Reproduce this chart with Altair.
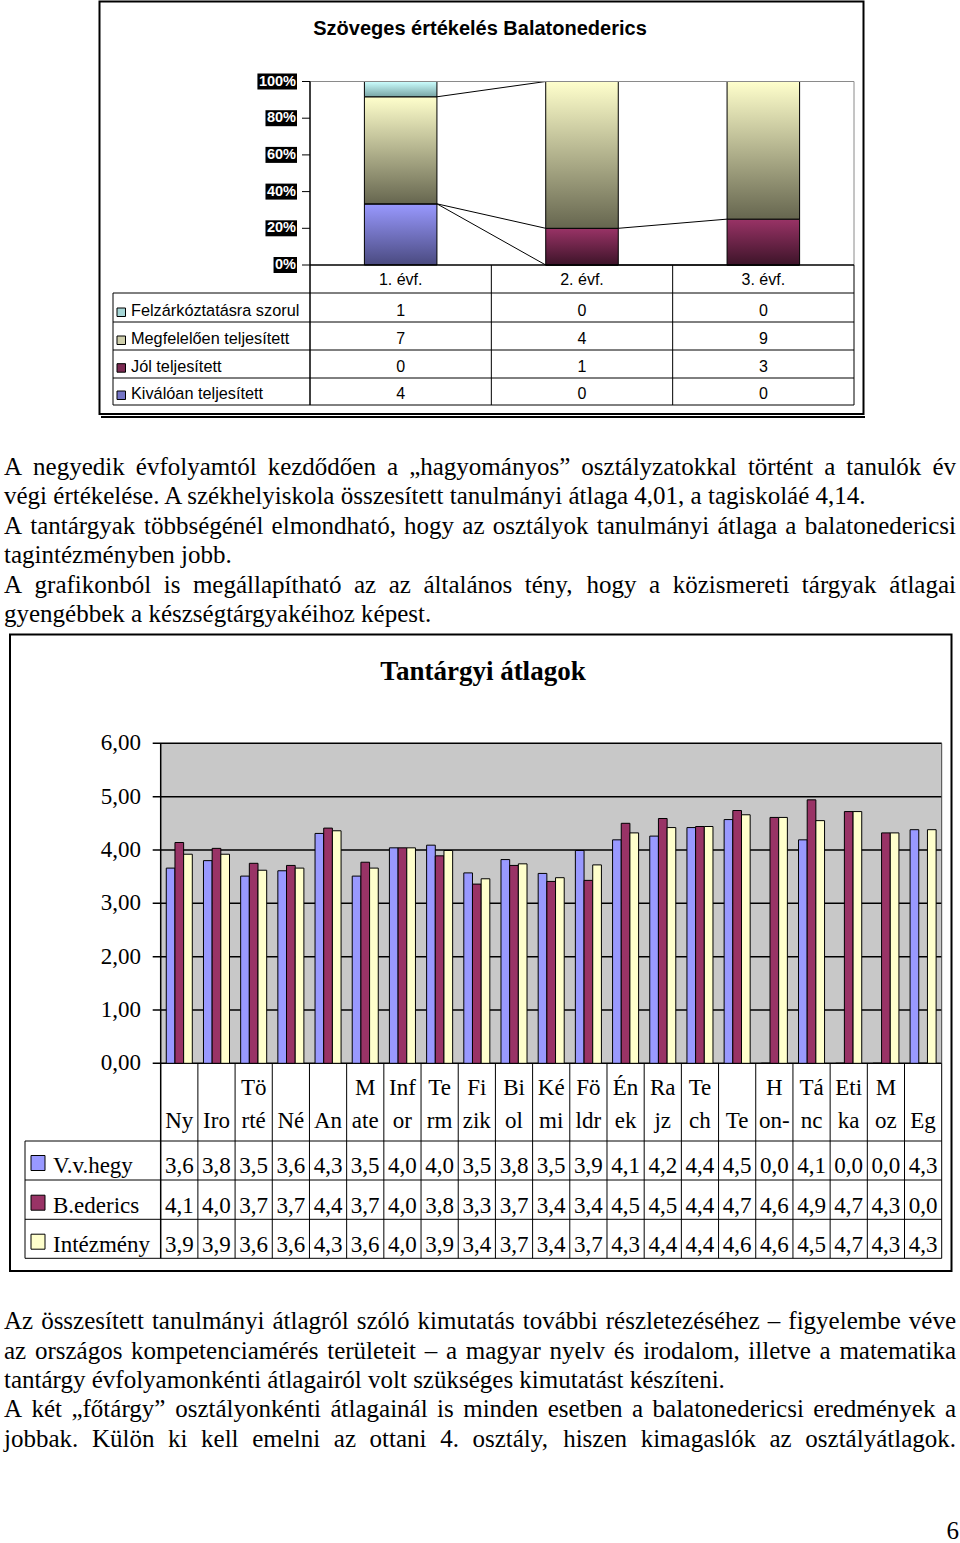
import altair as alt
import pandas as pd

# ---------------- data: chart 1 ----------------
title1 = "Szöveges értékelés Balatonederics"
grades = ["1. évf.", "2. évf.", "3. évf."]
series1 = ["Felzárkóztatásra szorul", "Megfelelően teljesített", "Jól teljesített", "Kiválóan teljesített"]
felzarkoztatasra = [1, 0, 0]
megfeleloen = [7, 4, 9]
jol_teljesitett = [0, 1, 3]
kivaloan = [4, 0, 0]
pct_ticks = [0, 0.2, 0.4, 0.6, 0.8, 1.0]

# ---------------- data: chart 2 ----------------
title2 = "Tantárgyi átlagok"
subj_line1 = ["", "", "Tö", "", "", "M", "Inf", "Te", "Fi", "Bi", "Ké", "Fö", "Én", "Ra", "Te", "", "H", "Tá", "Eti", "M", ""]
subj_line2 = ["Ny", "Iro", "rté", "Né", "An", "ate", "or", "rm", "zik", "ol", "mi", "ldr", "ek", "jz", "ch", "Te", "on-", "nc", "ka", "oz", "Eg"]
series2 = ["V.v.hegy", "B.ederics", "Intézmény"]
vvhegy = [3.66, 3.80, 3.51, 3.61, 4.31, 3.51, 4.04, 4.09, 3.57, 3.82, 3.56, 3.99, 4.19, 4.26, 4.42, 4.57, 0.0, 4.19, 0.0, 0.0, 4.38]
bederics = [4.14, 4.03, 3.75, 3.71, 4.41, 3.77, 4.04, 3.89, 3.36, 3.71, 3.41, 3.43, 4.50, 4.59, 4.44, 4.74, 4.61, 4.94, 4.72, 4.32, 0.0]
intezmeny = [3.92, 3.92, 3.62, 3.66, 4.36, 3.66, 4.04, 3.99, 3.46, 3.74, 3.48, 3.72, 4.32, 4.42, 4.44, 4.66, 4.61, 4.55, 4.72, 4.32, 4.38]
avg_ticks = [0, 1, 2, 3, 4, 5, 6]

# ---------------- page text ----------------
para1 = [
    ("A negyedik évfolyamtól kezdődően a „hagyományos” osztályzatokkal történt a tanulók év", True),
    ("végi értékelése. A székhelyiskola összesített tanulmányi átlaga 4,01, a tagiskoláé 4,14.", False),
    ("A tantárgyak többségénél elmondható, hogy az osztályok tanulmányi átlaga a balatonedericsi", True),
    ("tagintézményben jobb.", False),
    ("A grafikonból is megállapítható az az általános tény, hogy a közismereti tárgyak átlagai", True),
    ("gyengébbek a készségtárgyakéihoz képest.", False),
]
para2 = [
    ("Az összesített tanulmányi átlagról szóló kimutatás további részletezéséhez – figyelembe véve", True),
    ("az országos kompetenciamérés területeit – a magyar nyelv és irodalom, illetve a matematika", True),
    ("tantárgy évfolyamonkénti átlagairól volt szükséges kimutatást készíteni.", False),
    ("A két „főtárgy” osztályonkénti átlagainál is minden esetben a balatonedericsi eredmények a", True),
    ("jobbak. Külön ki kell emelni az ottani 4. osztály, hiszen kimagaslók az osztályátlagok.", True),
]
page_no = "6"

# ---------------- styles ----------------
SANS = "Liberation Sans, Arial, sans-serif"
SERIF = "Liberation Serif, Times New Roman, serif"
BODY = 25
T2 = 23

# Times New Roman advance widths (per 1000 em) for justified lines
TNR = {" ": 250, ",": 250, ".": 250, "-": 333, "–": 500, "„": 444, "”": 444, "(": 333, ")": 333, ":": 278, ";": 278, "%": 833}
for ch in "0123456789":
    TNR[ch] = 500
TNR.update(dict(a=444, b=500, c=444, d=500, e=444, f=333, g=500, h=500, i=278, j=278, k=500, l=278, m=778,
                n=500, o=500, p=500, q=500, r=333, s=389, t=278, u=500, v=500, w=722, x=500, y=500, z=444))
TNR.update(dict(A=722, B=667, C=667, D=722, E=611, F=556, G=722, H=722, I=333, J=389, K=722, L=611, M=889,
                N=722, O=722, P=556, Q=722, R=667, S=556, T=611, U=722, V=722, W=944, X=722, Y=722, Z=611))
ACC = str.maketrans("áéíóöőúüűÁÉÍÓÖŐÚÜŰ", "aeiooouuuAEIOOOUUU")


def tw(s, size):
    return sum(TNR.get(c, 500) for c in s.translate(ACC)) * size / 1000


XL, XR = 4, 956


def lay(lines, base, step):
    out = []
    for k, (txt, just) in enumerate(lines):
        y = base + k * step
        if not just:
            out.append(dict(px=XL, py=y, t=txt, a="l"))
            continue
        words = txt.split(" ")
        ws = [tw(w, BODY) for w in words]
        gap = (XR - XL - sum(ws)) / (len(words) - 1)
        x = XL
        for i, w in enumerate(words):
            if i == len(words) - 1:
                out.append(dict(px=XR, py=y, t=w, a="r"))
            else:
                out.append(dict(px=x, py=y, t=w, a="l"))
            x += ws[i] + gap
    return out


body = pd.DataFrame(lay(para1, 475, 29.4) + lay(para2, 1329.3, 29.35) +
                    [dict(px=959, py=1539, t=page_no, a="r")])
body_l = alt.Chart(body).transform_filter("datum.a == 'l'").mark_text(
    align="left", baseline="alphabetic", font=SERIF, fontSize=BODY, color="black"
).encode(x=alt.X("px:Q", scale=None), y=alt.Y("py:Q", scale=None), text="t:N")
body_r = alt.Chart(body).transform_filter("datum.a == 'r'").mark_text(
    align="right", baseline="alphabetic", font=SERIF, fontSize=BODY, color="black"
).encode(x=alt.X("px:Q", scale=None), y=alt.Y("py:Q", scale=None), text="t:N")

# ---------------- layout constants ----------------
C1X0, C1X1, C1Y0, C1Y1 = 310, 854, 265, 81.5
C2X0, C2X1, C2Y0, C2Y1 = 160.7, 941.7, 1063.3, 743.3
row_lines1 = [293, 322, 350, 378, 405]
row_base1 = [316, 344, 371.7, 399]
row_lines2 = [1141, 1180, 1219.3, 1258.3]
row_base2 = [1173, 1212.7, 1251.7]

# ---------------- chart 1 ----------------
sx1 = alt.Scale(domain=grades, range=[C1X0, C1X1], paddingInner=0.6, paddingOuter=0.3)
sy1 = alt.Scale(domain=[0, 1], range=[C1Y0, C1Y1], nice=False, zero=False)
counts1 = dict(zip(series1, [felzarkoztatasra, megfeleloen, jol_teljesitett, kivaloan]))
stack_order = ["Kiválóan teljesített", "Jól teljesített", "Megfelelően teljesített", "Felzárkóztatásra szorul"]
df1 = pd.DataFrame([dict(grade=g, series=s, n=counts1[s][i], order=stack_order.index(s))
                    for i, g in enumerate(grades) for s in series1])


def grad(top, bottom):
    return alt.LinearGradient(gradient="linear", x1=0, x2=0, y1=0, y2=1,
                              stops=[alt.GradientStop(offset=0, color=top),
                                     alt.GradientStop(offset=1, color=bottom)])


grads1 = {
    "Felzárkóztatásra szorul": grad("#ccffff", "#78a4a4"),
    "Megfelelően teljesített": grad("#ffffcc", "#66664f"),
    "Jól teljesített": grad("#993366", "#3d1429"),
    "Kiválóan teljesített": grad("#9999ff", "#4a4a80"),
}
swatch1 = {
    "Felzárkóztatásra szorul": "#a6d6d6",
    "Megfelelően teljesített": "#cfcfac",
    "Jól teljesített": "#7b2a52",
    "Kiválóan teljesített": "#7474c6",
}

base1 = alt.Chart(df1).transform_stack(
    stack="n", groupby=["grade"], as_=["y0", "y1"], offset="normalize",
    sort=[alt.SortField("order", order="ascending")])
bars1 = [
    base1.transform_filter(alt.datum.series == s).mark_bar(
        fill=grads1[s], stroke="black", strokeWidth=1
    ).encode(x=alt.X("grade:N", scale=sx1, axis=None),
             y=alt.Y("y0:Q", scale=sy1, axis=None), y2="y1:Q")
    for s in stack_order
]

tot = [sum(counts1[s][i] for s in series1) for i in range(len(grades))]
sl = []
for k in range(len(stack_order)):
    cum = [sum(counts1[s][i] for s in stack_order[:k + 1]) / tot[i] for i in range(len(grades))]
    for i in range(len(grades) - 1):
        sl.append(dict(ga=grades[i], gb=grades[i + 1], ya=cum[i], yb=cum[i + 1]))
series_lines = alt.Chart(pd.DataFrame(sl)).mark_rule(color="black", strokeWidth=1).encode(
    x=alt.X("ga:N", scale=sx1, axis=None, bandPosition=1),
    x2=alt.X2("gb:N", bandPosition=0),
    y=alt.Y("ya:Q", scale=sy1, axis=None), y2="yb:Q")

tk1 = pd.DataFrame({"v": pct_ticks})
ticks1 = alt.Chart(tk1).mark_rule(color="black", strokeWidth=1).encode(
    x=alt.value(302), x2=alt.value(C1X0), y=alt.Y("v:Q", scale=sy1, axis=None))
lblbox1 = alt.Chart(tk1).transform_calculate(lbl="format(datum.v, '.0%')").transform_calculate(
    bx="294.5 - ((length(datum.lbl) - 1) * 556 + 889) * 0.0145"
).mark_rect(color="black", yOffset=-8, y2Offset=8).encode(
    x=alt.X("bx:Q", scale=None), x2=alt.value(297),
    y=alt.Y("v:Q", scale=sy1, axis=None), y2="v:Q")
lbl1 = alt.Chart(tk1).transform_calculate(lbl="format(datum.v, '.0%')").mark_text(
    align="right", baseline="middle", font=SANS, fontSize=14.5, fontWeight="bold", color="white"
).encode(x=alt.value(296), y=alt.Y("v:Q", scale=sy1, axis=None), text="lbl:N")

cat1 = alt.Chart(pd.DataFrame({"grade": grades})).mark_text(
    font=SANS, fontSize=16, baseline="alphabetic", color="black"
).encode(x=alt.X("grade:N", scale=sx1, axis=None), y=alt.value(285), text="grade:N")

table1 = []
for s, yb in zip(series1, row_base1):
    table1.append(alt.Chart(df1).transform_filter(alt.datum.series == s).mark_text(
        font=SANS, fontSize=16, baseline="alphabetic", color="black"
    ).encode(x=alt.X("grade:N", scale=sx1, axis=None), y=alt.value(yb), text="n:Q"))
    leg = alt.Chart(pd.DataFrame({"series": [s]}))
    table1.append(leg.mark_rect(fill=swatch1[s], stroke="black", strokeWidth=1).encode(
        x=alt.value(117), x2=alt.value(125.5), y=alt.value(yb - 8), y2=alt.value(yb + 0.5)))
    table1.append(leg.mark_text(align="left", baseline="alphabetic", font=SANS, fontSize=16.3, color="black").encode(
        x=alt.value(131), y=alt.value(yb), text="series:N"))

ttl1 = alt.Chart(pd.DataFrame({"t": [title1]})).mark_text(
    font=SANS, fontSize=20, fontWeight="bold", baseline="alphabetic", color="black"
).encode(x=alt.value(480), y=alt.value(35), text="t:N")

# ---------------- chart 2 ----------------
keys = [a + b for a, b in zip(subj_line1, subj_line2)]
sx2 = alt.Scale(domain=keys, range=[C2X0, C2X1], paddingInner=0.3, paddingOuter=0.15)
sy2 = alt.Scale(domain=[0, 6], range=[C2Y0, C2Y1], nice=False)
vals2 = dict(zip(series2, [vvhegy, bederics, intezmeny]))
df2 = pd.DataFrame([dict(key=keys[i], series=s, value=vals2[s][i]) for s in series2 for i in range(len(keys))])
col2 = ["#9999ff", "#993366", "#ffffcc"]

bars2 = alt.Chart(df2).mark_bar(stroke="black", strokeWidth=1).encode(
    x=alt.X("key:N", scale=sx2, axis=None),
    xOffset=alt.XOffset("series:N", scale=alt.Scale(domain=series2, paddingInner=0, paddingOuter=0)),
    y=alt.Y("value:Q", scale=sy2, axis=None),
    fill=alt.Fill("series:N", scale=alt.Scale(domain=series2, range=col2), legend=None))

tk2 = pd.DataFrame({"v": avg_ticks})
grid2 = alt.Chart(tk2).mark_rule(color="black", strokeWidth=1.5).encode(
    x=alt.value(152.7), x2=alt.value(C2X1), y=alt.Y("v:Q", scale=sy2, axis=None))
ticklbl2 = alt.Chart(tk2).transform_calculate(lbl="replace(format(datum.v, '.2f'), '.', ',')").mark_text(
    align="right", baseline="middle", font=SERIF, fontSize=T2, color="black"
).encode(x=alt.value(141), y=alt.Y("v:Q", scale=sy2, axis=None), text="lbl:N")

df_cat = pd.DataFrame({"key": keys, "l1": subj_line1, "l2": subj_line2})
cat2a = alt.Chart(df_cat).mark_text(font=SERIF, fontSize=T2, baseline="alphabetic", color="black").encode(
    x=alt.X("key:N", scale=sx2, axis=None), y=alt.value(1095), text="l1:N")
cat2b = alt.Chart(df_cat).mark_text(font=SERIF, fontSize=T2, baseline="alphabetic", color="black").encode(
    x=alt.X("key:N", scale=sx2, axis=None), y=alt.value(1128), text="l2:N")

table2 = []
for s, yb, c in zip(series2, row_base2, col2):
    table2.append(alt.Chart(df2).transform_filter(alt.datum.series == s).transform_calculate(
        lbl="replace(format(floor(datum.value * 10 + 1e-6) / 10, '.1f'), '.', ',')"
    ).mark_text(font=SERIF, fontSize=T2, baseline="alphabetic", color="black").encode(
        x=alt.X("key:N", scale=sx2, axis=None), y=alt.value(yb), text="lbl:N"))
    leg = alt.Chart(pd.DataFrame({"series": [s]}))
    table2.append(leg.mark_rect(fill=c, stroke="black", strokeWidth=1).encode(
        x=alt.value(31), x2=alt.value(45), y=alt.value(yb - 17.5), y2=alt.value(yb - 2.5)))
    table2.append(leg.mark_text(align="left", baseline="alphabetic", font=SERIF, fontSize=T2, color="black").encode(
        x=alt.value(53), y=alt.value(yb), text="series:N"))

ttl2 = alt.Chart(pd.DataFrame({"t": [title2]})).mark_text(
    font=SERIF, fontSize=27, fontWeight="bold", baseline="alphabetic", color="black"
).encode(x=alt.value(483), y=alt.value(680), text="t:N")

# ---------------- decorations: frames, plot backgrounds, table lines ----------------
rects = pd.DataFrame([
    dict(x=C2X0, x2=C2X1, y=C2Y1, y2=C2Y0, f="#c8c8c8"),
])
bg = alt.Chart(rects).mark_rect().encode(
    x=alt.X("x:Q", scale=None), x2="x2:Q", y=alt.Y("y:Q", scale=None), y2="y2:Q",
    fill=alt.Fill("f:N", scale=None))

frames = pd.DataFrame([
    dict(x=99.5, x2=863.5, y=1.5, y2=414),
    dict(x=10, x2=951.5, y=634.5, y2=1271),
])
frame_layer = alt.Chart(frames).mark_rect(fill="transparent", stroke="black", strokeWidth=2).encode(
    x=alt.X("x:Q", scale=None), x2="x2:Q", y=alt.Y("y:Q", scale=None), y2="y2:Q")

segs = []


def seg(x, y, x2, y2, c="black", w=1.0):
    segs.append(dict(x=x, y=y, x2=x2, y2=y2, c=c, w=w))


# chart 1 plot border, axes, table
seg(C1X0, C1Y1, C1X1, C1Y1, "#8a8a8a", 1)
seg(C1X1, C1Y1, C1X1, C1Y0, "#8a8a8a", 1)
seg(C1X0, C1Y1, C1X0, row_lines1[-1], "black", 1.5)
seg(C1X0, C1Y0, C1X1, C1Y0, "black", 1.5)
for yy in row_lines1:
    seg(113, yy, C1X1, yy)
seg(113, row_lines1[0], 113, row_lines1[-1])
step1 = (C1X1 - C1X0) / len(grades)
for k in range(1, len(grades) + 1):
    seg(C1X0 + k * step1, C1Y0, C1X0 + k * step1, row_lines1[-1])
seg(101, 417, 865, 417, "black", 2)
# chart 2 axes, table
seg(C2X0, C2Y1, C2X0, row_lines2[-1], "black", 1.5)
seg(C2X1, C2Y1, C2X1, C2Y0, "#444444", 1)
seg(C2X1, C2Y0, C2X1, row_lines2[-1], "black", 1)
step2 = (C2X1 - C2X0) / len(keys)
for k in range(1, len(keys)):
    seg(C2X0 + k * step2, C2Y0, C2X0 + k * step2, row_lines2[-1])
for yy in row_lines2:
    seg(25, yy, C2X1, yy)
seg(25, row_lines2[0], 25, row_lines2[-1])

seg_layer = alt.Chart(pd.DataFrame(segs)).mark_rule().encode(
    x=alt.X("x:Q", scale=None), x2="x2:Q", y=alt.Y("y:Q", scale=None), y2="y2:Q",
    stroke=alt.Stroke("c:N", scale=None), strokeWidth=alt.StrokeWidth("w:Q", scale=None))

layers = [bg, grid2, bars2, *bars1, series_lines, seg_layer, ticks1, lblbox1, lbl1, cat1, *table1, ttl1,
          ticklbl2, cat2a, cat2b, *table2, ttl2, body_l, body_r, frame_layer]

chart = alt.layer(*layers).resolve_scale(
    x="independent", y="independent", fill="independent", stroke="independent",
    strokeWidth="independent", xOffset="independent"
).properties(
    width=960, height=1543, padding=0, autosize=alt.AutoSizeParams(type="none"), background="white"
).configure_view(stroke=None)

chart.save("out.html", embed_options={"renderer": "svg", "actions": False})
